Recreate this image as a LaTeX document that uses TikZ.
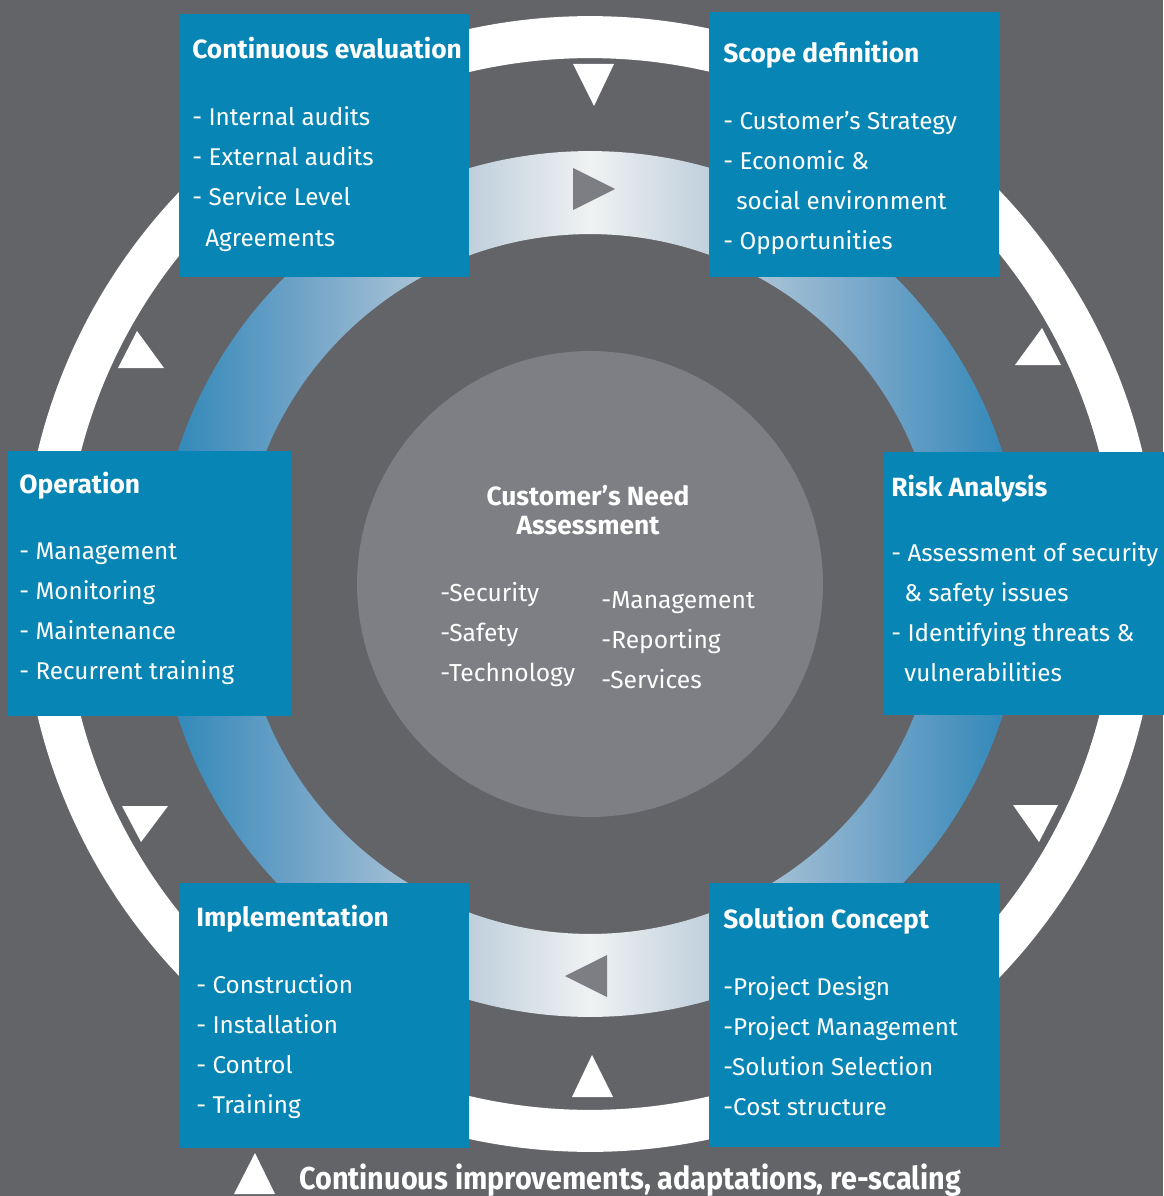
\documentclass[tikz,border=0pt]{standalone}
\usepackage{fontspec}
\setmainfont{Fira Sans}
\usetikzlibrary{positioning}
\definecolor{bggrey}{HTML}{636468}
\definecolor{centregrey}{HTML}{7E7F84}
\definecolor{boxblue}{HTML}{0785B4}
\definecolor{trigrey}{HTML}{7D7E84}
\definecolor{ringblue}{HTML}{2A85B7}
\definecolor{ringmid}{HTML}{6EA2C7}
\definecolor{ringpale}{HTML}{BFCFDC}
\definecolor{ringwhite}{HTML}{F0F2F2}
\pgfdeclarehorizontalshading{ringshade}{100bp}{color(0bp)=(ringblue); color(25bp)=(ringblue); color(33bp)=(ringmid); color(43bp)=(ringpale); color(50bp)=(ringwhite); color(57bp)=(ringpale); color(67bp)=(ringmid); color(75bp)=(ringblue); color(100bp)=(ringblue)}

\begin{document}
\begin{tikzpicture}[x=0.02cm, y=-0.02cm,
                    stagebox/.style={fill=boxblue, anchor=north west, inner sep=0pt},
                    stagetitle/.style={anchor=base west, inner sep=0pt, text=white, font=\fontsize{15}{17}\selectfont\bfseries},
                    stageitem/.style={anchor=base west, inner sep=0pt, text=white, font=\fontsize{13.8}{16}\selectfont},
                    needtext/.style={anchor=base, inner sep=0pt, text=white, font=\fontsize{15}{17}\selectfont\bfseries},
                    needitem/.style={anchor=base west, inner sep=0pt, text=white, font=\fontsize{14}{16}\selectfont},
                    whitetri/.style={fill=white},
                    greytri/.style={fill=trigrey},
                   ]

\useasboundingbox (0,0) rectangle (1163,1196);
\fill[bggrey] (0,0) rectangle (1163,1196);

\coordinate (c) at (590,584);

% rings
\fill[white, even odd rule] (c) circle[radius=11.36cm] (c) circle[radius=10.52cm];
\shade[shading=ringshade, even odd rule] (c) circle[radius=8.66cm] (c) circle[radius=7cm];

\fill[greytri] (573,168) -- (573,210) -- (615,189) -- cycle;
\fill[greytri] (607,955) -- (607,997) -- (565,976) -- cycle;

\fill[whitetri] (573,64) -- (614,64) -- (594,106) -- cycle;
\fill[whitetri] (1015,365) -- (1061,365) -- (1042,328) -- cycle;
\fill[whitetri] (1013,805) -- (1058,805) -- (1039,842) -- cycle;
\fill[whitetri] (572,1097) -- (613,1097) -- (592,1055) -- cycle;
\fill[whitetri] (122,806) -- (168,806) -- (141,842) -- cycle;
\fill[whitetri] (118,368) -- (164,368) -- (137,331) -- cycle;

% centre
\node[circle, fill=centregrey, minimum size=9.32cm, inner sep=0pt] (need) at (c) {};
\node[needtext] (needtitle) at (588,505) {Customer’s Need};
\node[needtext] (needsub) at (588,534) {Assessment};
\foreach \txt [count=\i] in {-Security, -Safety, -Technology}
  \node[needitem] (needl-\i) at (440,561+40*\i) {\txt};
\foreach \txt [count=\i] in {-Management, -Reporting, -Services}
  \node[needitem] (needr-\i) at (601,568+40*\i) {\txt};

% stages
\node[stagebox, minimum width=5.8cm, minimum height=5.26cm] (evalbox) at (179,14) {};
\node[stagetitle] (evaltitle) at ([shift={(13,45)}]evalbox.north west) {Continuous evaluation};
\foreach \dx/\txt [count=\i] in {0/- Internal audits, 0/- External audits, 0/- Service Level, 13/Agreements}
  \node[stageitem] (eval-\i) at ([shift={(13+\dx,72+40*\i)}]evalbox.north west) {\txt};

\node[stagebox, minimum width=5.8cm, minimum height=5.3cm] (scopebox) at (709,12) {};
\node[stagetitle] (scopetitle) at ([shift={(14,51)}]scopebox.north west) {Scope definition};
\foreach \dx/\txt [count=\i] in {0/- Customer’s Strategy, 0/- Economic \&, 13/social environment, 0/- Opportunities}
  \node[stageitem] (scope-\i) at ([shift={(14+\dx,78+40*\i)}]scopebox.north west) {\txt};

\node[stagebox, minimum width=5.68cm, minimum height=5.3cm] (opbox) at (7,451) {};
\node[stagetitle] (optitle) at ([shift={(12,42)}]opbox.north west) {Operation};
\foreach \txt [count=\i] in {- Management, - Monitoring, - Maintenance, - Recurrent training}
  \node[stageitem] (op-\i) at ([shift={(12,68+40*\i)}]opbox.north west) {\txt};

\node[stagebox, minimum width=5.8cm, minimum height=5.26cm] (riskbox) at (883,452) {};
\node[stagetitle] (risktitle) at ([shift={(8,44)}]riskbox.north west) {Risk Analysis};
\foreach \dx/\txt [count=\i] in {0/- Assessment of security, 13/\& safety issues, 0/- Identifying threats \&, 13/vulnerabilities}
  \node[stageitem] (risk-\i) at ([shift={(8+\dx,69+40*\i)}]riskbox.north west) {\txt};

\node[stagebox, minimum width=5.8cm, minimum height=5.3cm] (implbox) at (179,883) {};
\node[stagetitle] (impltitle) at ([shift={(17,43)}]implbox.north west) {Implementation};
\foreach \txt [count=\i] in {- Construction, - Installation, - Control, - Training}
  \node[stageitem] (impl-\i) at ([shift={(17,70+40*\i)}]implbox.north west) {\txt};

\node[stagebox, minimum width=5.8cm, minimum height=5.28cm] (solbox) at (709,883) {};
\node[stagetitle] (soltitle) at ([shift={(14,45)}]solbox.north west) {Solution Concept};
\foreach \txt [count=\i] in {-Project Design, -Project Management, -Solution Selection, -Cost structure}
  \node[stageitem] (sol-\i) at ([shift={(14,72+40*\i)}]solbox.north west) {\txt};

% legend
\fill[whitetri] (234,1194) -- (275,1194) -- (255,1153) -- cycle;
\node[anchor=base west, inner sep=0pt, text=white, font=\fontsize{18}{20}\selectfont\bfseries] (caption) at (299,1189)
  {\scalebox{0.91}[1]{Continuous improvements, adaptations, re-scaling}};

\end{tikzpicture}
\end{document}
